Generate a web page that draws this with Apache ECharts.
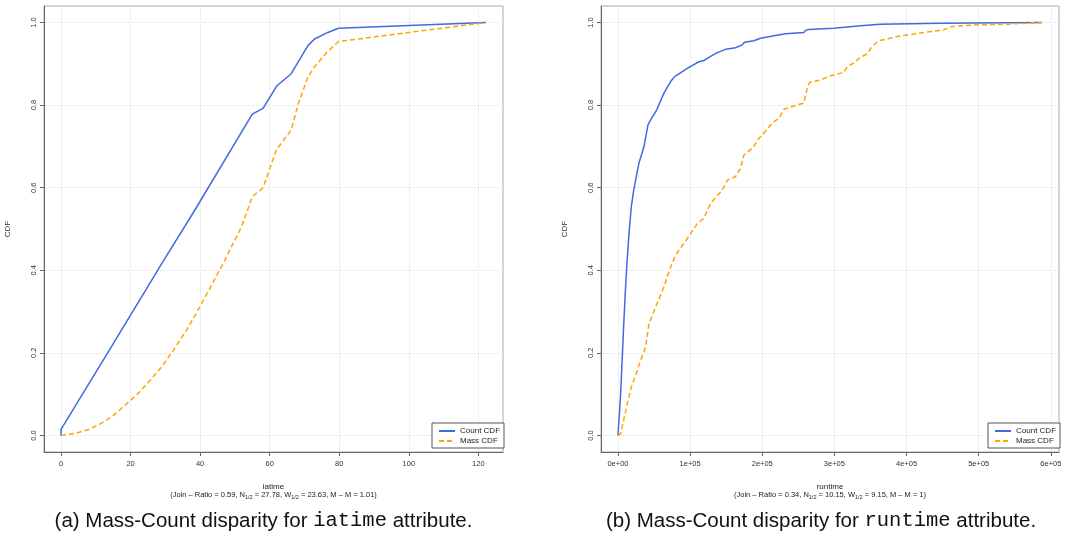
<!DOCTYPE html>
<html>
<head>
<meta charset="utf-8">
<script src="https://cdn.jsdelivr.net/npm/echarts@6/dist/echarts.min.js"></script>
<style>
html,body{margin:0;padding:0;background:#fff;}
#chart{width:1082px;height:533px;}
</style>
</head>
<body>
<div id="chart"></div>
<script>
// ---- Data ----
var seriesNames = ['Count CDF', 'Mass CDF'];

// Panel (a): iatime
var iatimeCount = [[0,0],[0,0.015],[13.2,0.197],[29.4,0.422],[38.5,0.546],[55,0.778],[58.1,0.792],[62.1,0.847],[66.2,0.876],[71,0.944],[72.9,0.960],[76.7,0.976],[79.8,0.986],[122.2,1.0]];
var iatimeMass = [[0,0],[4.6,0.006],[8,0.015],[11.3,0.028],[15,0.048],[18.9,0.077],[22.3,0.103],[25.6,0.133],[29,0.167],[32.3,0.206],[36.1,0.255],[39.9,0.311],[43.8,0.372],[47.1,0.424],[49,0.457],[51.9,0.505],[55,0.578],[58.1,0.600],[61.9,0.691],[66.2,0.740],[68.3,0.805],[71,0.868],[72.9,0.893],[76.7,0.930],[79.8,0.954],[122.2,1.0]];

// Panel (b): runtime
var runtimeCount = [[0,0],[3700,0.10],[7500,0.25],[10000,0.34],[12000,0.404],[15300,0.489],[18500,0.554],[22200,0.598],[29000,0.659],[36000,0.699],[41600,0.752],[45300,0.764],[53600,0.788],[63700,0.829],[73000,0.857],[78500,0.869],[96100,0.889],[112200,0.905],[119100,0.908],[128400,0.918],[137700,0.927],[149200,0.935],[163000,0.939],[172300,0.946],[175500,0.952],[188400,0.956],[197600,0.962],[216100,0.968],[232300,0.973],[257600,0.976],[260000,0.981],[264500,0.983],[299200,0.986],[317700,0.989],[336100,0.992],[363800,0.996],[447000,0.998],[587800,1.0]];
var runtimeMass = [[0,0],[3700,0.004],[13000,0.077],[18500,0.117],[24500,0.146],[31400,0.182],[38400,0.214],[43000,0.271],[52200,0.311],[63700,0.360],[73000,0.408],[79900,0.437],[96100,0.477],[110000,0.513],[119100,0.526],[128400,0.562],[144600,0.594],[151500,0.618],[163000,0.627],[169900,0.647],[174500,0.679],[188400,0.699],[193100,0.715],[202200,0.732],[211500,0.752],[216100,0.760],[223000,0.768],[230000,0.790],[243800,0.798],[257600,0.805],[262300,0.841],[265900,0.855],[280700,0.861],[294600,0.871],[313000,0.879],[317700,0.893],[326900,0.902],[336100,0.916],[345400,0.924],[352300,0.942],[361500,0.956],[377700,0.962],[391600,0.968],[410000,0.972],[428500,0.977],[451500,0.982],[460800,0.990],[493100,0.994],[539300,0.996],[587800,1.0]];

// Tick values and labels
var yTicks = [0, 0.2, 0.4, 0.6, 0.8, 1.0];
var yTickLabels = ['0.0', '0.2', '0.4', '0.6', '0.8', '1.0'];
var xTicksA = [0, 20, 40, 60, 80, 100, 120];
var xTickLabelsA = ['0', '20', '40', '60', '80', '100', '120'];
var xTicksB = [0, 100000, 200000, 300000, 400000, 500000, 600000];
var xTickLabelsB = ['0e+00', '1e+05', '2e+05', '3e+05', '4e+05', '5e+05', '6e+05'];

var xNameA = 'iatime';
var xNameB = 'runtime';
var statsA = ['0.59', '27.78', '23.63', '1.01'];
var statsB = ['0.34', '10.15', '9.15', '1'];
var captionA = ['(a) Mass-Count disparity for ', 'iatime', ' attribute.'];
var captionB = ['(b) Mass-Count disparity for ', 'runtime', ' attribute.'];

// ---- Chart ----
var BLUE = '#4169E1', ORANGE = '#FFA500';
var FONT = 'Liberation Sans';
var chart = echarts.init(document.getElementById('chart'), null, {renderer: 'canvas'});

function labelFmt(ticks, labels) {
  return function (v) {
    for (var i = 0; i < ticks.length; i++) if (Math.abs(ticks[i] - v) < 1e-9 * Math.max(1, Math.abs(v))) return labels[i];
    return '';
  };
}
function ext(data) {
  var mx = 0; data.forEach(function (d) { if (d[0] > mx) mx = d[0]; });
  return mx;
}
var maxA = ext(iatimeCount), maxB = ext(runtimeCount);

function xAxisCfg(gi, maxV, ticks, labels) {
  return {
    type: 'value', gridIndex: gi,
    min: -0.04 * maxV, max: maxV * 1.04,
    axisLine: {show: true, onZero: false, lineStyle: {color: '#666', width: 1}},
    axisTick: {show: true, length: 4, customValues: ticks, lineStyle: {color: '#666'}},
    axisLabel: {customValues: ticks, formatter: labelFmt(ticks, labels), fontSize: 7.5, color: '#333', fontFamily: FONT, margin: 8},
    splitLine: {show: true, lineStyle: {color: '#e2e2e2', type: 'dotted', width: 1}}
  };
}
function yAxisCfg(gi) {
  return {
    type: 'value', gridIndex: gi,
    min: -0.04, max: 1.04,
    name: 'CDF', nameLocation: 'middle', nameGap: 32, nameRotate: 90,
    nameTextStyle: {fontSize: 8, color: '#333', fontFamily: FONT},
    axisLine: {show: true, onZero: false, lineStyle: {color: '#666', width: 1}},
    axisTick: {show: true, length: 4, customValues: yTicks, lineStyle: {color: '#666'}},
    axisLabel: {customValues: yTicks, formatter: labelFmt(yTicks, yTickLabels), rotate: 90, fontSize: 7.5, color: '#333', fontFamily: FONT, margin: 6},
    splitLine: {show: true, lineStyle: {color: '#e2e2e2', type: 'dotted', width: 1}}
  };
}
function lineSeries(name, data, gi, color, dashed) {
  return {
    name: name, type: 'line', xAxisIndex: gi, yAxisIndex: gi,
    data: data, symbol: 'none', silent: true, animation: false,
    lineStyle: {color: color, width: 1.5, type: dashed ? [5, 3] : 'solid'},
    itemStyle: {color: color}
  };
}
function legendCfg(left) {
  return {
    left: left, top: 423, orient: 'vertical',
    data: seriesNames.slice(),
    backgroundColor: '#fff', borderColor: '#555', borderWidth: 1,
    borderRadius: 0,
    padding: [4, 4, 3, 6], itemGap: 2, itemWidth: 16, itemHeight: 8,
    itemStyle: {opacity: 0},
    textStyle: {fontSize: 8, color: '#222', fontFamily: FONT},
    selectedMode: false
  };
}
function statsText(s) {
  return '(Join \u2013 Ratio = ' + s[0] + ', N{sub|1/2} = ' + s[1] + ', W{sub|1/2} = ' + s[2] + ', M \u2013 M = ' + s[3] + ')';
}
var subRich = {sub: {fontSize: 5.5, verticalAlign: 'bottom', padding: [4, 0, 0, 0], fontFamily: FONT, fill: '#222'}};

chart.setOption({
  animation: false,
  backgroundColor: '#fff',
  grid: [
    {left: 44, top: 6, width: 459, height: 446, show: true, borderColor: '#aaa', borderWidth: 1, containLabel: false},
    {left: 601, top: 6, width: 458, height: 446, show: true, borderColor: '#aaa', borderWidth: 1, containLabel: false}
  ],
  xAxis: [xAxisCfg(0, maxA, xTicksA, xTickLabelsA), xAxisCfg(1, maxB, xTicksB, xTickLabelsB)],
  yAxis: [yAxisCfg(0), yAxisCfg(1)],
  legend: [legendCfg(432), legendCfg(988)],
  series: [
    lineSeries(seriesNames[0], iatimeCount, 0, BLUE, false),
    lineSeries(seriesNames[1], iatimeMass, 0, ORANGE, true),
    lineSeries(seriesNames[0], runtimeCount, 1, BLUE, false),
    lineSeries(seriesNames[1], runtimeMass, 1, ORANGE, true)
  ],
  graphic: [
    {type: 'text', x: 273.5, y: 487, style: {text: xNameA, font: '8px "Liberation Sans"', fill: '#222', align: 'center', verticalAlign: 'middle'}},
    {type: 'text', x: 830, y: 487, style: {text: xNameB, font: '8px "Liberation Sans"', fill: '#222', align: 'center', verticalAlign: 'middle'}},
    {type: 'text', x: 273.5, y: 495, style: {text: statsText(statsA), font: '7.5px "Liberation Sans"', fill: '#222', align: 'center', verticalAlign: 'middle', rich: subRich}},
    {type: 'text', x: 830, y: 495, style: {text: statsText(statsB), font: '7.5px "Liberation Sans"', fill: '#222', align: 'center', verticalAlign: 'middle', rich: subRich}},
    {type: 'text', x: 263.5, y: 521, style: {
      text: '{n|' + captionA[0] + '}{m|' + captionA[1] + '}{n|' + captionA[2] + '}',
      align: 'center', verticalAlign: 'middle',
      rich: {n: {fontSize: 20.5, fontFamily: FONT, fill: '#111'}, m: {fontSize: 20.5, fontFamily: 'Liberation Mono', fill: '#111'}}
    }},
    {type: 'text', x: 821, y: 521, style: {
      text: '{n|' + captionB[0] + '}{m|' + captionB[1] + '}{n|' + captionB[2] + '}',
      align: 'center', verticalAlign: 'middle',
      rich: {n: {fontSize: 20.5, fontFamily: FONT, fill: '#111'}, m: {fontSize: 20.5, fontFamily: 'Liberation Mono', fill: '#111'}}
    }}
  ]
});
</script>
</body>
</html>
